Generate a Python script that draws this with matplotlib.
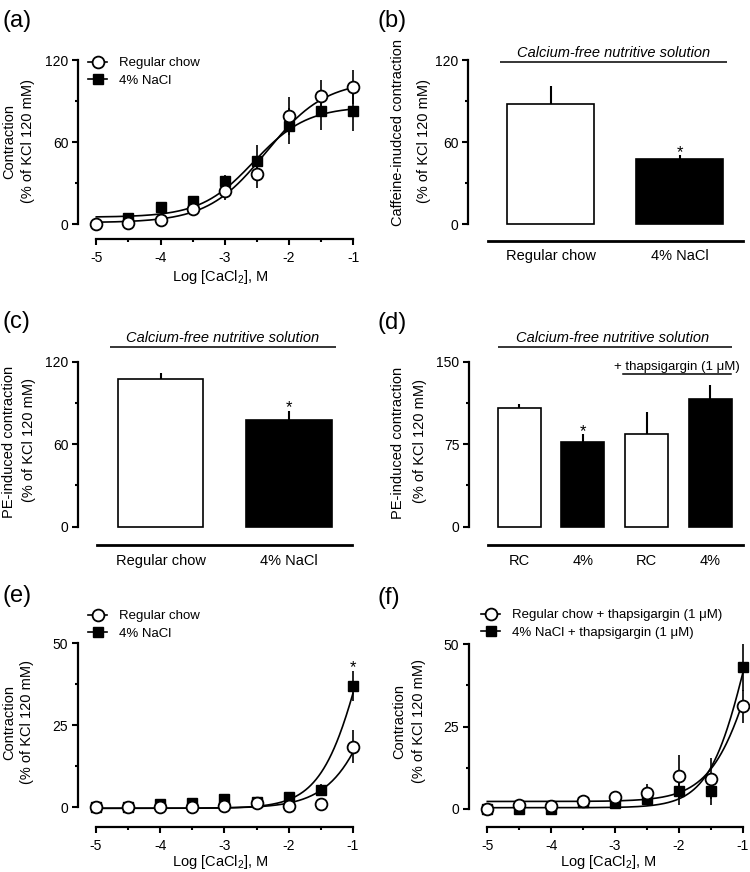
import numpy as np
import matplotlib
matplotlib.use("Agg")
import matplotlib.pyplot as plt
from matplotlib.lines import Line2D
from matplotlib.ticker import FixedLocator

plt.rcParams.update({
    'font.family': ['Liberation Sans', 'DejaVu Sans'],
    'axes.unicode_minus': False,
    'mathtext.fontset': 'custom',
    'mathtext.rm': 'Liberation Sans',
    'mathtext.it': 'Liberation Sans:italic',
    'mathtext.bf': 'Liberation Sans:bold',
})

W, H = 750, 872
nan = np.nan

# ---------------- data ----------------
log_ca = [-5, -4.5, -4, -3.5, -3, -2.5, -2, -1.5, -1]
x_ticks = [-5, -4, -3, -2, -1]

# (a) CaCl2 concentration-response
a_rc_mean = [0.0, 0.5, 3.0, 10.7, 23.9, 36.6, 79.0, 93.7, 100.5]
a_rc_sem = [0.8, 0.8, 1.2, 2.0, 6.0, 10.6, 13.7, 12.0, 12.5]
a_na_mean = [nan, 4.1, 12.2, 16.8, 31.5, 45.9, 71.7, 83.0, 83.0]
a_na_sem = [nan, 1.0, 4.0, 2.0, 4.4, 11.6, 13.2, 14.0, 15.0]
a_rc_fit = (1.0, 105.0, -2.35, 0.95)   # bottom, top, logEC50, Hill slope
a_na_fit = (5.0, 86.0, -2.55, 1.05)

# (b) caffeine-induced contraction
b_groups = ['Regular chow', '4% NaCl']
b_mean = [87.6, 47.3]
b_sem = [13.4, 2.9]
b_sig = [False, True]

# (c) PE-induced contraction
c_groups = ['Regular chow', '4% NaCl']
c_mean = [107.4, 77.6]
c_sem = [4.1, 6.3]
c_sig = [False, True]

# (d) PE-induced contraction +/- thapsigargin
d_groups = ['RC', '4%', 'RC', '4%']
d_mean = [107.6, 77.3, 84.2, 115.8]
d_sem = [3.6, 6.6, 20.3, 13.2]
d_sig = [False, True, False, False]

# (e) CaCl2 response
e_rc_mean = [0.0, 0.0, 0.0, 0.0, 0.5, 1.2, 0.5, 1.0, 18.5]
e_rc_sem = [0.3, 0.3, 0.3, 0.3, 0.5, 0.8, 0.5, 0.5, 5.0]
e_na_mean = [0.0, 0.0, 1.0, 1.4, 2.4, 1.7, 3.0, 5.3, 37.0]
e_na_sem = [0.3, 0.3, 0.5, 0.5, 0.8, 0.8, 1.0, 1.9, 4.7]
e_rc_fit = (-0.3, 100.0, -0.375, 1.1)
e_na_fit = (-0.3, 100.0, -0.793, 1.3)
e_sig = [False] * 8 + [True]

# (f) CaCl2 response + thapsigargin
f_rc_mean = [0.0, 1.0, 0.8, 2.2, 3.5, 4.9, 9.8, 9.1, 31.2]
f_rc_sem = [0.3, 0.5, 0.5, 1.5, 0.8, 2.6, 6.5, 6.2, 5.0]
f_na_mean = [0.0, 0.0, 0.0, 2.0, 1.8, 2.8, 5.5, 5.5, 43.0]
f_na_sem = [0.3, 0.3, 0.3, 1.0, 0.8, 1.2, 4.5, 4.5, 7.2]
f_rc_fit = (2.2, 100.0, -0.707, 1.2)
f_na_fit = (0.3, 100.0, -0.887, 1.4)

fig = plt.figure(figsize=(W / 100, H / 100), dpi=100)

TICK = 10
LAB = 10.5


def px_ax(left, right, top, bottom, xv, xp, yv, yp):
    ax = fig.add_axes([left / W, 1 - bottom / H, (right - left) / W, (bottom - top) / H])
    sx = (xv[1] - xv[0]) / (xp[1] - xp[0])
    ax.set_xlim(xv[0] + (left - xp[0]) * sx, xv[0] + (right - xp[0]) * sx)
    sy = (yv[1] - yv[0]) / (yp[1] - yp[0])
    ax.set_ylim(yv[0] + (bottom - yp[0]) * sy, yv[0] + (top - yp[0]) * sy)
    ax.patch.set_visible(False)
    for s in ['top', 'right']:
        ax.spines[s].set_visible(False)
    ax.spines['left'].set_linewidth(1.6)
    ax.spines['bottom'].set_linewidth(1.6)
    ax.tick_params(which='major', length=4.5, width=1.5, labelsize=TICK, pad=2.5)
    ax.tick_params(which='minor', length=2.3, width=1.5)
    return ax


def yticks(ax, ymax, ymajor):
    ax.set_yticks(np.arange(0, ymax + 0.01, ymajor))
    ax.yaxis.set_minor_locator(FixedLocator(np.arange(ymajor / 2, ymax, ymajor)))


def ylab(lines, xs, ys):
    for s, x, y in zip(lines, xs, ys):
        fig.text(x / W, 1 - y / H, s, rotation=90, ha='center', va='center', fontsize=LAB)


def letter(s, x, y):
    fig.text(x / W, 1 - y / H, s, ha='left', va='center', fontsize=17)


def hill(x, p):
    b, t, l, h = p
    return b + (t - b) / (1 + 10 ** ((l - x) * h))


def curve_panel(ax, rc_m, rc_s, na_m, na_s, rc_p, na_p, ymax, ymajor, labels, leg_xy, xlpad):
    xs = np.linspace(-5, -1, 300)
    ax.plot(xs, hill(xs, rc_p), color='k', lw=1.2, zorder=2)
    ax.plot(xs, hill(xs, na_p), color='k', lw=1.2, zorder=2)
    ax.errorbar(log_ca, na_m, yerr=na_s, fmt='none', ecolor='k', elinewidth=1.2, capsize=0, zorder=3, clip_on=False)
    ax.errorbar(log_ca, rc_m, yerr=rc_s, fmt='none', ecolor='k', elinewidth=1.2, capsize=0, zorder=3, clip_on=False)
    ax.plot(log_ca, na_m, ls='none', marker='s', ms=7, mfc='k', mec='k', zorder=4, clip_on=False)
    ax.plot(log_ca, rc_m, ls='none', marker='o', ms=8.5, mfc='white', mec='k', mew=1.3, zorder=5, clip_on=False)
    ax.spines['left'].set_bounds(0, ymax)
    ax.spines['bottom'].set_bounds(-5, -1)
    ax.set_xticks(x_ticks)
    ax.xaxis.set_minor_locator(FixedLocator(np.arange(-4.5, -1, 1.0)))
    ax.tick_params(axis='x', which='major', pad=4.0)
    yticks(ax, ymax, ymajor)
    ax.set_xlabel('Log [CaCl$_2$], M', fontsize=LAB, labelpad=xlpad)
    handles = [Line2D([], [], color='k', lw=1.2, marker='o', ms=8.5, mfc='white', mec='k', mew=1.3),
               Line2D([], [], color='k', lw=1.2, marker='s', ms=7, mfc='k', mec='k')]
    ax.legend(handles, labels, loc='upper left', bbox_to_anchor=(leg_xy[0] / W, 1 - leg_xy[1] / H),
              bbox_transform=fig.transFigure, frameon=False, fontsize=9.5, handlelength=1.45,
              handletextpad=0.9, labelspacing=0.42, borderpad=0, borderaxespad=0)


def bar_panel(ax, groups, mean, sem, sig, colors, ymax, ymajor, base_bounds, width):
    x = np.arange(len(groups))
    ax.bar(x, mean, width=width, color=colors, edgecolor='k', linewidth=1.2, zorder=2)
    ax.errorbar(x, mean, yerr=[np.zeros(len(mean)), sem], fmt='none', ecolor='k',
                elinewidth=1.5, capsize=0, zorder=1)
    for i, s in enumerate(sig):
        if s:
            ax.annotate('*', xy=(x[i], mean[i] + sem[i]), xytext=(0, -0.9), textcoords='offset points',
                        ha='center', va='baseline', fontsize=12)
    ax.spines['left'].set_bounds(0, ymax)
    ax.spines['bottom'].set_bounds(*base_bounds)
    ax.spines['bottom'].set_linewidth(2.0)
    ax.set_xticks(x)
    ax.set_xticklabels(groups)
    ax.tick_params(axis='x', length=0, pad=6, labelsize=LAB)
    yticks(ax, ymax, ymajor)


def bracket(ax, x0, x1, y, text, ty, tx=None, lw=1.1):
    ax.plot([x0, x1], [y, y], color='k', lw=lw, clip_on=False, solid_capstyle='butt')
    if tx is None:
        tx = (x0 + x1) / 2
    ax.text(tx, ty, text, ha='center', va='center', fontsize=LAB, style='italic', clip_on=False)


# ---------------- (a) ----------------
axa = px_ax(78, 362, 50, 239, (-5, -1), (96.3, 353.3), (0, 120), (224, 60))
curve_panel(axa, a_rc_mean, a_rc_sem, a_na_mean, a_na_sem, a_rc_fit, a_na_fit, 120, 60,
            ['Regular chow', '4% NaCl'], (88, 57), 2.0)
letter('(a)', 2, 21)
ylab(['Contraction', '(% of KCl 120 mM)'], [9, 28], [141.5, 141])

# ---------------- (b) ----------------
axb = px_ax(468, 746, 50, 241, (0, 1), (550.5, 679.5), (0, 120), (224, 60))
bar_panel(axb, b_groups, b_mean, b_sem, b_sig, ['white', 'black'], 120, 60, (-0.484, 1.493), 0.667)
bracket(axb, -0.391, 1.368, 118.5, 'Calcium-free nutritive solution', 125.0)
letter('(b)', 377, 21)
ylab(['Caffeine-inudced contraction', '(% of KCl 120 mM)'], [398, 424], [132, 141])

# ---------------- (c) ----------------
axc = px_ax(78, 360, 340, 545.3, (0, 1), (160.5, 289), (0, 120), (526.7, 361.7))
bar_panel(axc, c_groups, c_mean, c_sem, c_sig, ['white', 'black'], 120, 60, (-0.494, 1.49), 0.667)
bracket(axc, -0.393, 1.365, 130.9, 'Calcium-free nutritive solution', 137.5)
letter('(c)', 2, 322)
ylab(['PE-induced contraction', '(% of KCl 120 mM)'], [9.5, 28.5], [442, 440.5])

# ---------------- (d) ----------------
axd = px_ax(469, 746, 340, 545.3, (0, 3), (519.2, 710.5), (0, 150), (526.7, 361.7))
bar_panel(axd, d_groups, d_mean, d_sem, d_sig, ['white', 'black', 'white', 'black'], 150, 75,
          (-0.489, 3.509), 0.674)
bracket(axd, -0.337, 3.337, 163.1, 'Calcium-free nutritive solution', 171.5, tx=1.47)
axd.plot([1.628, 3.32], [138.5, 138.5], color='k', lw=1.1, clip_on=False)
axd.text(2.47, 145.3, '+ thapsigargin (1 \u03bcM)', ha='center', va='center', fontsize=9.5)
letter('(d)', 377, 323)
ylab(['PE-induced contraction', '(% of KCl 120 mM)'], [398, 420], [443, 441])

# ---------------- (e) ----------------
axe = px_ax(78, 362, 600, 826.7, (-5, -1), (96, 353), (0, 50), (807.3, 643.3))
curve_panel(axe, e_rc_mean, e_rc_sem, e_na_mean, e_na_sem, e_rc_fit, e_na_fit, 50, 25,
            ['Regular chow', '4% NaCl'], (88, 610), 0.3)
for i, s in enumerate(e_sig):
    if s:
        axe.annotate('*', xy=(log_ca[i], e_na_mean[i] + e_na_sem[i]), xytext=(0, -0.9),
                     textcoords='offset points', ha='center', va='baseline', fontsize=12)
letter('(e)', 2, 596)
ylab(['Contraction', '(% of KCl 120 mM)'], [9, 27.5], [722.5, 722.5])

# ---------------- (f) ----------------
axf = px_ax(469, 748, 600, 826.7, (-5, -1), (487.3, 742.7), (0, 50), (808.7, 644.3))
curve_panel(axf, f_rc_mean, f_rc_sem, f_na_mean, f_na_sem, f_rc_fit, f_na_fit, 50, 25,
            ['Regular chow + thapsigargin (1 \u03bcM)', '4% NaCl + thapsigargin (1 \u03bcM)'], (481, 609), 0.3)
letter('(f)', 377, 598)
ylab(['Contraction', '(% of KCl 120 mM)'], [399, 419], [721, 721])

fig.savefig('out.png', dpi=100)
